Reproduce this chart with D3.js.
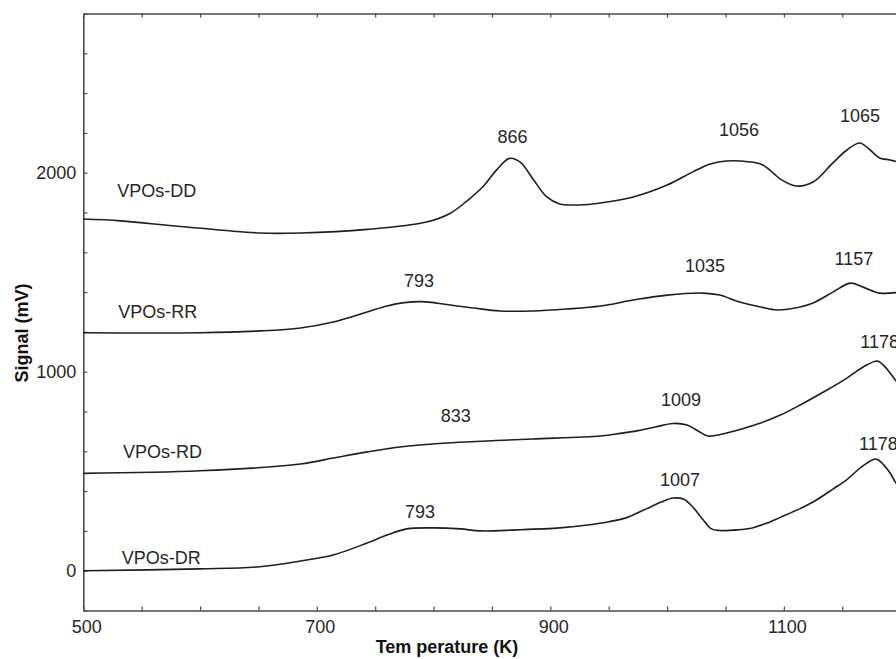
<!DOCTYPE html>
<html>
<head>
<meta charset="utf-8">
<script src="https://cdn.jsdelivr.net/npm/d3@7"></script>
<style>
  html, body { margin: 0; padding: 0; background: #fff; }
  svg { display: block; }
  text { font-family: "Liberation Sans", Arial, sans-serif; }
</style>
</head>
<body>
<svg id="chart" width="896" height="659"></svg>
<script>
// ---- data ----
const ddT = [500, 532, 583, 651, 686, 743, 794, 814, 829, 842, 854, 865, 874, 885, 897, 908, 925, 943, 971, 1000, 1022, 1037, 1051, 1071, 1082, 1091, 1097, 1111, 1125, 1142, 1154, 1165, 1172, 1182, 1191, 1200];
const ddV = [1767, 1758, 1730, 1697, 1697, 1715, 1752, 1795, 1860, 1928, 2014, 2072, 2054, 1970, 1878, 1843, 1838, 1848, 1878, 1938, 2004, 2044, 2059, 2054, 2039, 1998, 1968, 1933, 1953, 2049, 2114, 2149, 2124, 2074, 2064, 2050];

const rrT = [500, 600, 651, 686, 714, 743, 760, 775, 790, 811, 834, 857, 885, 914, 943, 971, 1000, 1031, 1045, 1062, 1080, 1094, 1114, 1125, 1142, 1157, 1168, 1182, 1200];
const rrV = [1196, 1196, 1205, 1220, 1250, 1300, 1330, 1347, 1352, 1338, 1320, 1305, 1305, 1315, 1330, 1360, 1385, 1395, 1385, 1350, 1325, 1310, 1325, 1345, 1400, 1445, 1425, 1395, 1400];

const rdT = [500, 600, 686, 714, 743, 771, 811, 846, 885, 943, 960, 975, 990, 1005, 1017, 1028, 1035, 1051, 1080, 1097, 1114, 1137, 1154, 1168, 1180, 1185, 1191, 1196, 1200];
const rdV = [489, 502, 536, 566, 597, 622, 642, 652, 662, 677, 690, 704, 722, 740, 732, 697, 677, 692, 742, 782, 833, 908, 968, 1024, 1054, 1034, 994, 954, 930];

const drT = [500, 600, 651, 686, 714, 743, 760, 777, 800, 823, 840, 871, 908, 930, 950, 966, 980, 995, 1005, 1014, 1022, 1031, 1038, 1045, 1060, 1073, 1085, 1097, 1114, 1125, 1142, 1154, 1168, 1179, 1184, 1191, 1196, 1200];
const drV = [0, 9, 20, 49, 79, 139, 179, 210, 215, 210, 200, 205, 215, 228, 246, 268, 305, 345, 365, 360, 320, 255, 210, 202, 205, 215, 238, 268, 312, 345, 410, 458, 528, 561, 541, 491, 441, 420];

const seriesNames = ["VPOs-DD", "VPOs-RR", "VPOs-RD", "VPOs-DR"];
const seriesNameT = [529, 530, 534, 533];
const seriesNameV = [1877, 1270, 566, 34];

const peakText = ["866", "1056", "1065", "793", "1035", "1157", "833", "1009", "1178", "793", "1007", "1178"];
const peakT    = [867.6, 1061.6, 1165.2, 787.5, 1032.4, 1160, 819, 1012, 1182, 788.4, 1011, 1181];
const peakV    = [2149, 2184, 2255, 1426, 1501, 1536, 747, 828, 1119, 265, 426, 607];

const xTickLabels = [500, 700, 900, 1100];
const yTickLabels = [0, 1000, 2000];

// ---- layout ----
const svg = d3.select("#chart");
const x = d3.scaleLinear().domain([500, 1200]).range([83.3, 900.6]);
const y = d3.scaleLinear().domain([-200, 2800]).range([610.5, 13.5]);

const axisColor = "#4a4a4a";
const textColor = "#262626";

const xTicks = d3.range(500, 1201, 50);
const yTicks = d3.range(-200, 2801, 200);

function styleAxis(g) {
  g.selectAll("path.domain").attr("stroke", axisColor).attr("stroke-width", 1.6);
  g.selectAll(".tick line").attr("stroke", axisColor).attr("stroke-width", 1.2);
  g.selectAll(".tick text").attr("fill", textColor).style("font-size", "18px")
    .style("font-family", '"Liberation Sans", Arial, sans-serif');
}

// bottom axis
const gx = svg.append("g").attr("transform", `translate(0,${y(-200)})`)
  .call(d3.axisBottom(x).tickValues(xTicks).tickSize(-4).tickSizeOuter(0).tickPadding(10)
    .tickFormat(d => xTickLabels.includes(d) ? d : ""));
styleAxis(gx);
gx.selectAll(".tick text").attr("dx", 3);

// top border
const gt = svg.append("g").attr("transform", `translate(0,${y(2800)})`)
  .call(d3.axisTop(x).tickValues(xTicks).tickSize(-4).tickSizeOuter(0).tickFormat(""));
styleAxis(gt);

// left axis
const gy = svg.append("g").attr("transform", `translate(${x(500)},0)`)
  .call(d3.axisLeft(y).tickValues(yTicks).tickSize(-4).tickSizeOuter(0).tickPadding(7)
    .tickFormat(d => yTickLabels.includes(d) ? d : ""));
styleAxis(gy);

// axis titles
svg.append("text")
  .attr("x", 447).attr("y", 653)
  .attr("text-anchor", "middle")
  .attr("fill", "#111")
  .style("font-size", "18px").style("font-weight", "bold")
  .text("Tem perature (K)");

svg.append("text")
  .attr("transform", "translate(28,333) rotate(-90)")
  .attr("text-anchor", "middle")
  .attr("fill", "#111")
  .style("font-size", "18px").style("font-weight", "bold")
  .text("Signal (mV)");

// curves
const line = d3.line().x(d => x(d[0])).y(d => y(d[1])).curve(d3.curveCatmullRom.alpha(0.5));
const series = [[ddT, ddV], [rrT, rrV], [rdT, rdV], [drT, drV]];
svg.append("g").selectAll("path").data(series).join("path")
  .attr("d", s => line(s[0].map((t, i) => [t, s[1][i]])))
  .attr("fill", "none")
  .attr("stroke", "#1e1e1e")
  .attr("stroke-width", 1.6);

// series labels
svg.append("g").selectAll("text").data(seriesNames).join("text")
  .attr("x", (d, i) => x(seriesNameT[i]))
  .attr("y", (d, i) => y(seriesNameV[i]))
  .attr("fill", textColor)
  .style("font-size", "18px")
  .text(d => d);

// peak labels
svg.append("g").selectAll("text").data(peakText).join("text")
  .attr("x", (d, i) => x(peakT[i]))
  .attr("y", (d, i) => y(peakV[i]))
  .attr("text-anchor", "middle")
  .attr("fill", textColor)
  .style("font-size", "18px")
  .text(d => d);
</script>
</body>
</html>
